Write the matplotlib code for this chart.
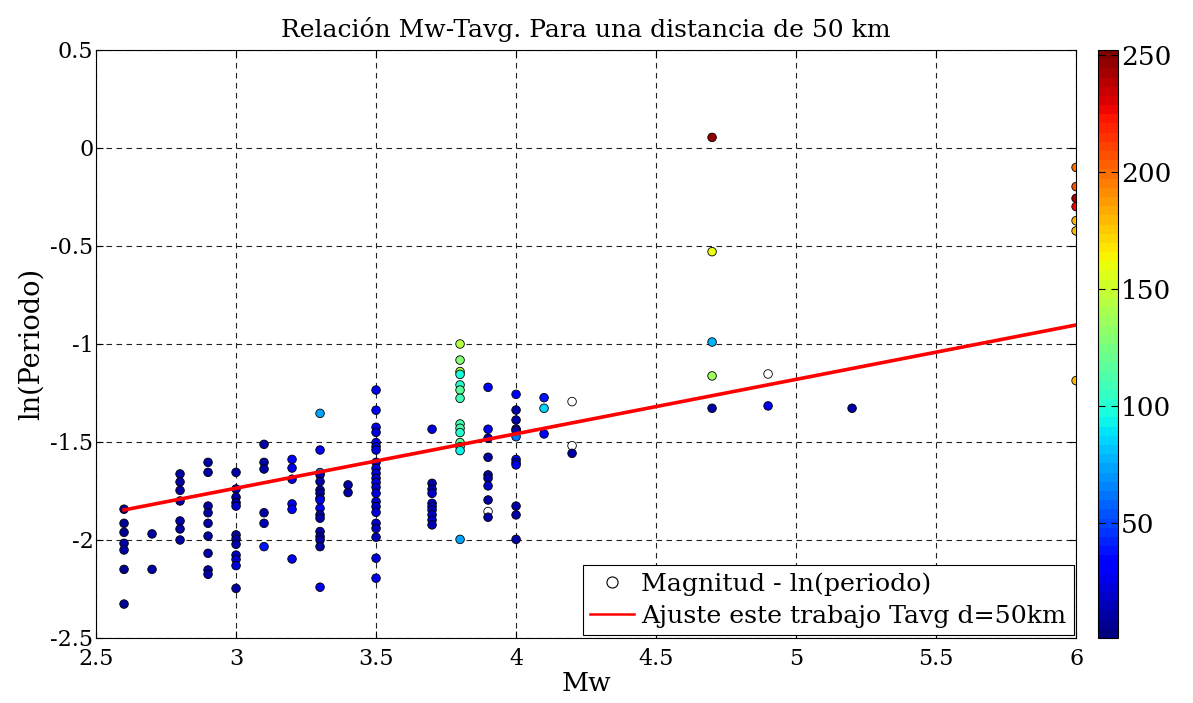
import numpy as np
import matplotlib
matplotlib.use("Agg")
import matplotlib.pyplot as plt
from matplotlib.lines import Line2D

plt.rcParams['font.family'] = ['DejaVu Serif']
plt.rcParams['axes.unicode_minus'] = False

# Magnitud (Mw) de cada registro
mw = [2.6] * 7 + [2.7] * 2 + [2.8] * 7 + [2.9] * 9 + [3.0] * 12 + [3.1] * 6 + \
     [3.2] * 6 + [3.3] * 17 + [3.4] * 2 + [3.5] * 22 + [3.7] * 10 + [3.8] * 14 + \
     [3.9] * 10 + [4.0] * 12 + [4.1] * 3 + [4.2] * 3 + [4.7] * 5 + [4.9] * 2 + \
     [5.2] * 1 + [6.0] * 7

# ln(periodo) de cada registro
ln_periodo = [
    -1.843, -1.915, -1.961, -2.017, -2.051, -2.150, -2.327,                 # 2.6
    -1.969, -2.150,                                                         # 2.7
    -1.663, -1.704, -1.747, -1.801, -1.903, -1.944, -2.000,                 # 2.8
    -1.604, -1.655, -1.827, -1.861, -1.915, -1.980, -2.068, -2.153, -2.175, # 2.9
    -1.655, -1.740, -1.782, -1.810, -1.827, -1.974, -1.995, -2.022, -2.077,
    -2.099, -2.131, -2.247,                                                 # 3.0
    -1.512, -1.604, -1.638, -1.861, -1.915, -2.034,                         # 3.1
    -1.589, -1.633, -1.690, -1.816, -1.844, -2.097,                         # 3.2
    -1.354, -1.541, -1.656, -1.668, -1.702, -1.745, -1.762, -1.787, -1.796,
    -1.838, -1.872, -1.889, -1.957, -1.983, -2.000, -2.034, -2.241,         # 3.3
    -1.719, -1.758,                                                         # 3.4
    -1.235, -1.338, -1.425, -1.451, -1.503, -1.524, -1.541, -1.604, -1.635,
    -1.660, -1.685, -1.707, -1.731, -1.762, -1.804, -1.830, -1.859, -1.915,
    -1.941, -1.986, -2.093, -2.195,                                         # 3.5
    -1.435, -1.711, -1.741, -1.762, -1.813, -1.830, -1.847, -1.872, -1.898,
    -1.923,                                                                 # 3.7
    -1.000, -1.082, -1.141, -1.155, -1.209, -1.235, -1.277, -1.408, -1.430,
    -1.452, -1.503, -1.524, -1.544, -1.997,                                 # 3.8
    -1.221, -1.435, -1.481, -1.578, -1.668, -1.685, -1.724, -1.796, -1.855,
    -1.884,                                                                 # 3.9
    -1.257, -1.337, -1.388, -1.434, -1.442, -1.473, -1.589, -1.605, -1.617,
    -1.827, -1.872, -1.997,                                                 # 4.0
    -1.274, -1.328, -1.459,                                                 # 4.1
    -1.294, -1.519, -1.558,                                                 # 4.2
    0.054, -0.529, -0.990, -1.163, -1.328,                                  # 4.7
    -1.153, -1.316,                                                         # 4.9
    -1.328,                                                                 # 5.2
    -0.099, -0.197, -0.257, -0.299, -0.371, -0.423, -1.187,                 # 6.0
]

# Valor de la escala de color de cada registro (nan = sin valor)
nan = np.nan
valor_color = [
    8, 8, 8, 10, 10, 8, 8,
    10, 10,
    10, 10, 10, 12, 10, 10, 10,
    10, 10, 10, 10, 10, 10, 10, 12, 12,
    10, 12, 10, 10, 18, 10, 12, 10, 18, 20, 22, 12,
    10, 10, 10, 10, 14, 38,
    30, 28, 22, 25, 30, 25,
    75, 25, 60, 12, 12, 10, 12, 15, 25, 30, 12, 12, 10, 10, 10, 12, 25,
    12, 12,
    28, 30, 25, 22, 26, 24, 22, 20, 24, 22, 20, 25, 18, 22, 20, 18, 22, 20,
    16, 14, 22, 25,
    22, 12, 15, 18, 20, 18, 15, 20, 18, 15,
    145, 128, 145, 98, 100, 118, 110, 110, 112, 100, 115, 105, 95, 72,
    32, 25, 10, 12, 12, 12, 18, 12, nan, 12,
    32, 10, 10, 12, 12, 60, 28, 25, 25, 12, 10, 10,
    38, 85, 30,
    nan, nan, 10,
    245, 158, 78, 135, 10,
    nan, 28,
    10,
    200, 205, 243, 225, 180, 178, 180,
]

# Coeficientes del ajuste lineal ln(T) = a*Mw + b
ajuste_a = 0.2776
ajuste_b = -2.5686

x_ticks = [2.5, 3, 3.5, 4, 4.5, 5, 5.5, 6]
x_tick_labels = ['2.5', '3', '3.5', '4', '4.5', '5', '5.5', '6']
y_ticks = [-2.5, -2, -1.5, -1, -0.5, 0, 0.5]
y_tick_labels = ['-2.5', '-2', '-1.5', '-1', '-0.5', '0', '0.5']
cbar_ticks = [50, 100, 150, 200, 250]

mw_arr = np.array(mw)
ln_arr = np.array(ln_periodo)
c_arr = np.array(valor_color, dtype=float)

fig = plt.figure(figsize=(11.93, 7.03), dpi=100)
ax = fig.add_axes([0.0805, 0.0925, 0.8215, 0.8364])

cmap = plt.get_cmap('jet', 64).copy()
cmap.set_bad('white')

sc = ax.scatter(mw_arr, ln_arr, c=c_arr, cmap=cmap, vmin=1, vmax=252,
                s=38, edgecolors='black', linewidths=0.6, zorder=3,
                plotnonfinite=True)

x_fit = np.array([mw_arr.min(), mw_arr.max()])
ax.plot(x_fit, ajuste_a * x_fit + ajuste_b, color='red', lw=2.6, zorder=4)

ax.set_xlim(2.5, 6)
ax.set_ylim(-2.5, 0.5)
ax.set_xticks(x_ticks)
ax.set_xticklabels(x_tick_labels)
ax.set_yticks(y_ticks)
ax.set_yticklabels(y_tick_labels)
ax.tick_params(direction='in', length=5, width=0.8, top=True, right=True,
               labelsize=16)
ax.tick_params(axis='x', pad=7)
ax.tick_params(axis='y', pad=2)
ax.grid(True, color='#222222', linestyle=(0, (5, 4)), linewidth=0.8)
ax.set_axisbelow(True)
for sp in ax.spines.values():
    sp.set_linewidth(0.8)

ax.set_title('Relación Mw-Tavg. Para una distancia de 50 km', fontsize=18, pad=9)
ax.set_xlabel('Mw', fontsize=19, labelpad=1)
ax.set_ylabel('ln(Periodo)', fontsize=19.5, labelpad=4)

handles = [
    Line2D([], [], marker='o', linestyle='none', markerfacecolor='white',
           markeredgecolor='black', markersize=8, markeredgewidth=0.8),
    Line2D([], [], color='red', lw=1.8),
]
leg = ax.legend(handles, ['Magnitud - ln(periodo)', 'Ajuste este trabajo Tavg d=50km'],
                loc='lower right', fontsize=18.2, fancybox=False, framealpha=1,
                edgecolor='black', borderaxespad=0.1, handlelength=1.75,
                borderpad=0.3, labelspacing=0.35, handletextpad=0.25)
leg.get_frame().set_linewidth(0.8)

cax = fig.add_axes([0.9204, 0.0925, 0.0168, 0.8364])
cb = fig.colorbar(sc, cax=cax)
cb.set_ticks(cbar_ticks)
cb.ax.tick_params(direction='in', length=5, width=0.8, left=True, right=True,
                  labelsize=19, pad=2)
cb.outline.set_linewidth(0.8)

fig.savefig('out.png', dpi=100)
